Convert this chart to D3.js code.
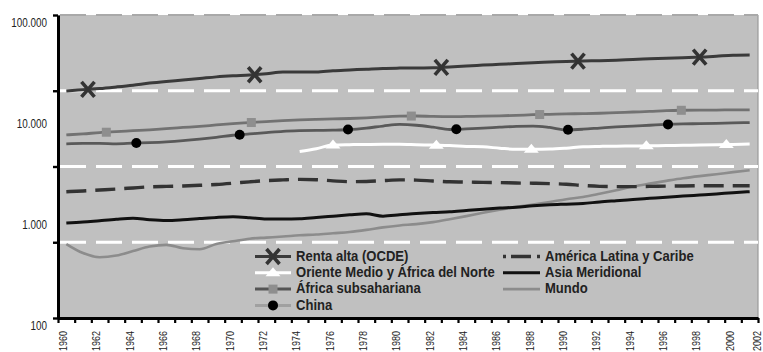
<!DOCTYPE html>
<html>
<head>
<meta charset="utf-8">
<script src="https://cdn.jsdelivr.net/npm/d3@7"></script>
<style>
  html, body { margin: 0; padding: 0; background: #fff; }
  svg { display: block; }
  text { font-family: "Liberation Sans Narrow", "Arial Narrow", "Liberation Sans", Arial, sans-serif; }
</style>
</head>
<body>
<svg id="chart" width="763" height="352"></svg>
<script>
// Renta per cápita, 1960-2001 (escala logarítmica)
const years = d3.range(1960, 2002);

const rentaAlta = [17700, 18200, 18700, 19400, 20200, 21200, 22000, 22700, 23500, 24400,
  25000, 25400, 26200, 27300, 27300, 27300, 28100, 28600, 29100, 29600,
  29800, 29900, 30000, 30600, 31300, 31900, 32500, 33100, 33700, 34200,
  34700, 35100, 35300, 35700, 36300, 36800, 37300, 37800, 38300, 39100,
  40000, 40200];

const orienteMedio = [null, null, null, null, null, null, null, null, null, null,
  null, null, null, null, 4450, 4750, 5150, 5200, 5230, 5250,
  5250, 5200, 5150, 5100, 5000, 4950, 4800, 4680, 4680, 4700,
  4800, 4950, 5000, 5030, 5050, 5070, 5100, 5120, 5150, 5180,
  5230, 5280];

const africaSub = [6500, 6650, 6850, 7000, 7150, 7300, 7500, 7700, 7900, 8150,
  8400, 8600, 8800, 9000, 9150, 9250, 9350, 9450, 9600, 9800,
  9950, 10000, 9900, 9850, 9900, 9950, 10050, 10150, 10300, 10400,
  10500, 10550, 10650, 10800, 10950, 11100, 11300, 11400, 11450, 11450,
  11500, 11500];

const china = [5300, 5350, 5350, 5300, 5380, 5450, 5550, 5700, 5900, 6150,
  6450, 6650, 6850, 7050, 7150, 7200, 7250, 7350, 7600, 7950,
  8250, 8100, 7750, 7350, 7450, 7600, 7750, 7900, 7950, 7700,
  7300, 7400, 7600, 7800, 7950, 8100, 8250, 8350, 8400, 8450,
  8550, 8600];

const americaLatina = [1780, 1810, 1850, 1890, 1940, 1990, 2010, 2030, 2060, 2100,
  2160, 2230, 2290, 2330, 2360, 2340, 2280, 2240, 2250, 2290,
  2330, 2320, 2270, 2230, 2220, 2200, 2190, 2170, 2160, 2140,
  2110, 2050, 2010, 2000, 2000, 2010, 2020, 2030, 2040, 2040,
  2040, 2040];

const asiaMeridional = [870, 890, 920, 950, 970, 940, 925, 940, 965, 990,
  1005, 985, 955, 955, 960, 990, 1020, 1050, 1075, 1020,
  1050, 1085, 1110, 1125, 1160, 1195, 1225, 1250, 1290, 1320,
  1340, 1360, 1410, 1450, 1490, 1530, 1570, 1610, 1650, 1690,
  1740, 1780];

const mundo = [540, 440, 400, 415, 460, 510, 530, 490, 480, 540,
  575, 610, 625, 640, 660, 670, 690, 710, 745, 790,
  825, 850, 890, 950, 1020, 1100, 1180, 1260, 1330, 1410,
  1500, 1580, 1700, 1840, 2000, 2140, 2280, 2420, 2540, 2650,
  2780, 2900];

// Positions (in years) of the symbols along each line
const rentaAltaMarks = [1961.3, 1971.3, 1982.5, 1990.7, 1998.0];
const orienteMarks = [1976.0, 1982.2, 1987.9, 1994.8, 1999.6];
const africaMarks = [1962.4, 1971.1, 1980.7, 1988.4, 1996.9];
const chinaMarks = [1964.2, 1970.4, 1976.9, 1983.4, 1990.1, 1996.1];

// Axis ticks and labels
const xTickYears = d3.range(1960, 2003);
const xLabelYears = d3.range(1960, 2003, 2);
const yLabelValues = [100, 1000, 10000, 100000];
const yLabelText = ["100", "1.000", "10.000", "100.000"];
const yGridValues = d3.range(5).map(k => Math.pow(10, 2 + 0.75 * k));

// Legend entries
const legendLeft = ["Renta alta (OCDE)", "Oriente Medio y África del Norte", "África subsahariana", "China"];
const legendRight = ["América Latina y Caribe", "Asia Meridional", "Mundo"];

// ---------------------------------------------------------------
const W = 763, H = 352;
const plot = { left: 58, right: 758, top: 15, bottom: 318 };

const svg = d3.select("#chart");

const x = d3.scaleLinear().domain([1960, 2002]).range([plot.left, plot.right]);
const y = d3.scaleLog().domain([100, 100000]).range([plot.bottom, plot.top]);
// each yearly value sits in the middle of its year
const xc = t => x(t + 0.5);

// squeeze a text element horizontally to a fraction of its natural width
function condense(sel, factor) {
  sel.each(function () {
    const w = this.getComputedTextLength();
    d3.select(this).attr("textLength", w * factor).attr("lengthAdjust", "spacingAndGlyphs");
  });
}

// plot background
svg.append("rect")
  .attr("x", plot.left).attr("y", plot.top)
  .attr("width", plot.right - plot.left).attr("height", plot.bottom - plot.top)
  .attr("fill", "#c0c0c0");
svg.append("line")
  .attr("x1", plot.right).attr("x2", plot.right)
  .attr("y1", plot.top).attr("y2", plot.bottom)
  .attr("stroke", "#9a9a9a").attr("stroke-width", 1.2);

// dashed gridlines
const gridVals = yGridValues.slice(1);
svg.append("g").selectAll("line").data(gridVals).join("line")
  .attr("x1", plot.left + 2).attr("x2", plot.right)
  .attr("y1", d => y(d)).attr("y2", d => y(d))
  .attr("stroke", (d, i) => i === gridVals.length - 1 ? "#a9a9a9" : "#ffffff")
  .attr("stroke-width", (d, i) => i === gridVals.length - 1 ? 2 : 3)
  .attr("stroke-dasharray", "26,10");

// series table
const series = [
  { name: "Mundo", values: mundo, color: "#8c8c8c", width: 2.6 },
  { name: "Asia Meridional", values: asiaMeridional, color: "#111111", width: 3 },
  { name: "América Latina y Caribe", values: americaLatina, color: "#333333", width: 3.4, dash: "20,9" },
  { name: "Oriente Medio y África del Norte", values: orienteMedio, color: "#ffffff", width: 3, marks: orienteMarks, symbol: "triangle" },
  { name: "China", values: china, color: "#595959", width: 2.8, marks: chinaMarks, symbol: "circle" },
  { name: "África subsahariana", values: africaSub, color: "#727272", width: 2.8, marks: africaMarks, symbol: "square" },
  { name: "Renta alta (OCDE)", values: rentaAlta, color: "#3a3a3a", width: 3, marks: rentaAltaMarks, symbol: "x" }
];

const line = d3.line()
  .defined(d => d.v != null)
  .x(d => xc(d.year))
  .y(d => y(d.v))
  .curve(d3.curveMonotoneX);

// value of a series at a fractional year (log-linear between yearly points)
function valueAt(vals, t) {
  const i = Math.floor(t - 1960), f = (t - 1960) - i;
  const a = vals[i], b = vals[Math.min(i + 1, vals.length - 1)];
  return Math.exp(Math.log(a) * (1 - f) + Math.log(b) * f);
}

function drawSymbol(g, type, cx, cy) {
  if (type === "x") {
    g.append("path")
      .attr("d", `M${cx - 6.5},${cy - 7.5}L${cx + 6.5},${cy + 7.5}M${cx - 6.5},${cy + 7.5}L${cx + 6.5},${cy - 7.5}`)
      .attr("stroke", "#333").attr("stroke-width", 3.6).attr("fill", "none");
  } else if (type === "triangle") {
    g.append("path")
      .attr("d", `M${cx - 7.5},${cy + 3.5}L${cx + 7.5},${cy + 3.5}L${cx},${cy - 5.5}Z`)
      .attr("fill", "#ffffff");
  } else if (type === "square") {
    g.append("rect")
      .attr("x", cx - 4.5).attr("y", cy - 4.5).attr("width", 9).attr("height", 9)
      .attr("fill", "#8e8e8e");
  } else if (type === "circle") {
    g.append("circle").attr("cx", cx).attr("cy", cy).attr("r", 5).attr("fill", "#000");
  }
}

const gSeries = svg.append("g");
series.forEach(s => {
  const pts = years.map((yr, i) => ({ year: yr, v: s.values[i] }));
  gSeries.append("path")
    .datum(pts)
    .attr("d", line)
    .attr("fill", "none")
    .attr("stroke", s.color)
    .attr("stroke-width", s.width)
    .attr("stroke-dasharray", s.dash || null)
    .attr("stroke-linejoin", "round");
  if (s.marks) {
    s.marks.forEach(t => drawSymbol(gSeries, s.symbol, xc(t), y(valueAt(s.values, t))));
  }
});

// y axis
const yAxis = d3.axisLeft(y).tickValues(yGridValues).tickFormat("").tickSize(5).tickSizeOuter(0);
const gy = svg.append("g").attr("transform", `translate(${plot.left},0)`).call(yAxis);
gy.select(".domain").attr("stroke", "#000").attr("stroke-width", 3);
gy.selectAll(".tick line").attr("stroke", "#000").attr("stroke-width", 2.4);

svg.append("g").selectAll("text").data(yLabelValues).join("text")
  .attr("x", 47)
  .attr("y", d => y(d) + 7)
  .attr("dy", "0.35em")
  .attr("text-anchor", "end")
  .attr("font-size", 13)
  .attr("fill", "#222")
  .text((d, i) => yLabelText[i])
  .call(condense, 0.76);

// x axis
const xAxis = d3.axisBottom(x).tickValues(xTickYears).tickFormat("").tickSize(5).tickSizeOuter(0);
const gx = svg.append("g").attr("transform", `translate(0,${plot.bottom})`).call(xAxis);
gx.select(".domain").attr("stroke", "#000").attr("stroke-width", 3);
gx.selectAll(".tick line").attr("stroke", "#000").attr("stroke-width", 2.2);

// rotated year labels; the last one is kept inside the drawing
svg.append("g").selectAll("text").data(xLabelYears).join("text")
  .attr("transform", d => `translate(${Math.min(x(d) + 5, W - 6)},331) rotate(-90)`)
  .attr("dy", "0.35em")
  .attr("text-anchor", "end")
  .attr("font-size", 11.5)
  .attr("fill", "#222")
  .attr("textLength", 20)
  .attr("lengthAdjust", "spacingAndGlyphs")
  .text(d => String(d));

// legend
const rowY = i => 256.5 + i * 16.3;
const legendSymbols = ["x", "triangle", "square", "circle"];
const legendLineColors = ["#3a3a3a", "#ffffff", "#555555", "#a0a0a0"];
const gLeg = svg.append("g");
legendLeft.forEach((name, i) => {
  const cy = rowY(i);
  gLeg.append("line")
    .attr("x1", 255).attr("x2", 291).attr("y1", cy).attr("y2", cy)
    .attr("stroke", legendLineColors[i]).attr("stroke-width", 3);
  drawSymbol(gLeg, legendSymbols[i], 273, cy);
  gLeg.append("text")
    .attr("class", "leg")
    .attr("x", 296).attr("y", cy - 1).attr("dy", "0.35em")
    .text(name);
});
const rightStyles = [
  { color: "#333333", width: 3.4, dash: "3,5,20,6" },
  { color: "#111111", width: 3 },
  { color: "#8c8c8c", width: 2.6 }
];
legendRight.forEach((name, i) => {
  const cy = rowY(i);
  gLeg.append("line")
    .attr("x1", 503).attr("x2", 540).attr("y1", cy).attr("y2", cy)
    .attr("stroke", rightStyles[i].color).attr("stroke-width", rightStyles[i].width)
    .attr("stroke-dasharray", rightStyles[i].dash || null);
  gLeg.append("text")
    .attr("class", "leg")
    .attr("x", 545).attr("y", cy - 1).attr("dy", "0.35em")
    .text(name);
});
gLeg.selectAll("text.leg")
  .attr("font-size", 15).attr("font-weight", "bold").attr("fill", "#222")
  .call(condense, 0.87);
</script>
</body>
</html>
